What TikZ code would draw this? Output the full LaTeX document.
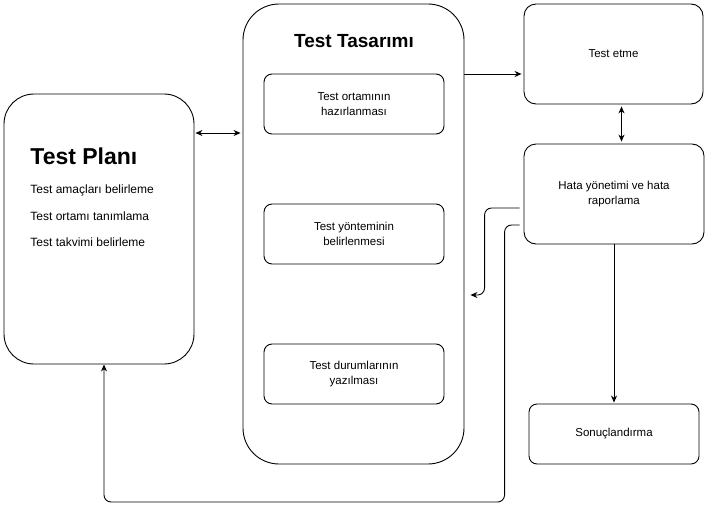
\documentclass[tikz,border=0pt]{standalone}
\usepackage{fontspec}
\setmainfont{Liberation Sans}
\usetikzlibrary{arrows.meta}

\begin{document}
\begin{tikzpicture}[x=1pt,y=-1pt,>={Stealth[length=7pt,width=6pt]},line width=0.9pt,
    box/.style={draw,rectangle,inner sep=0pt,align=center,font=\fontsize{11.5}{15}\selectfont},
    item/.style={anchor=west,inner sep=0pt,font=\fontsize{12}{14}\selectfont}]
  \useasboundingbox (0,0) rectangle (711,519);

  \begin{scope}[every node/.style={box}]
    \node[rounded corners=30pt,minimum width=190pt,minimum height=270pt] (plan) at (99,229) {};
    \node[rounded corners=36pt,minimum width=221pt,minimum height=460pt] (tasarim) at (353.5,234) {};
    \node[rounded corners=12pt,minimum width=179pt,minimum height=100pt] (etme) at (613.5,54) {Test etme};
    \node[rounded corners=12pt,minimum width=180pt,minimum height=100pt] (hata) at (614,194) {Hata yönetimi ve hata\\raporlama};
    \node[rounded corners=8pt,minimum width=170pt,minimum height=60pt] (sonuc) at (614,434) {Sonuçlandırma};
  \end{scope}

  \begin{scope}[every node/.style={box,rounded corners=8pt,minimum width=180pt,minimum height=60pt}]
    \node (ortam) at (354,104) {Test ortamının\\hazırlanması};
    \node (yontem) at (354,234) {Test yönteminin\\belirlenmesi};
    \node (durum) at (354,374) {Test durumlarının\\yazılması};
  \end{scope}

  % basliklar
  \node[font=\bfseries\fontsize{19}{22}\selectfont] (tastitle) at (354,41) {Test Tasarımı};
  \node[item,font=\bfseries\fontsize{23}{26}\selectfont] (plantitle) at (30,156) {Test Planı};
  \node[item] (amac) at (30,190) {Test amaçları belirleme};
  \node[item] (ortami) at (30,216) {Test ortamı tanımlama};
  \node[item] (takvim) at (30,242) {Test takvimi belirleme};

  % baglantilar
  \coordinate (pa) at ([yshift=96pt]plan.east);
  \path [<->] (pa) edge[shorten <=1pt,shorten >=2pt] (pa -| tasarim.west);
  \coordinate (te) at ([yshift=160pt]tasarim.east);
  \path [->] (te) edge[shorten >=2pt] (te -| etme.west);
  \coordinate (eh) at ([xshift=8pt]etme.south);
  \path [<->] (eh) edge[shorten <=2pt,shorten >=2pt] (eh |- hata.north);
  \path [->] (hata) edge[shorten >=1pt] (sonuc);

  \coordinate (h1) at ([xshift=-4pt,yshift=-14pt]hata.west);
  \coordinate (geri) at ([xshift=6pt,yshift=-61pt]tasarim.east);
  \draw [->,rounded corners=7pt] (h1) -- ++(-35,0) |- (geri);
  \coordinate (h2) at ([xshift=-4pt,yshift=-31pt]hata.west);
  \coordinate (pb) at ([xshift=5pt]plan.south);
  \draw [->,rounded corners=7pt] (h2) -- ++(-15,0) -- ++(0,277) -| (pb);
\end{tikzpicture}
\end{document}
